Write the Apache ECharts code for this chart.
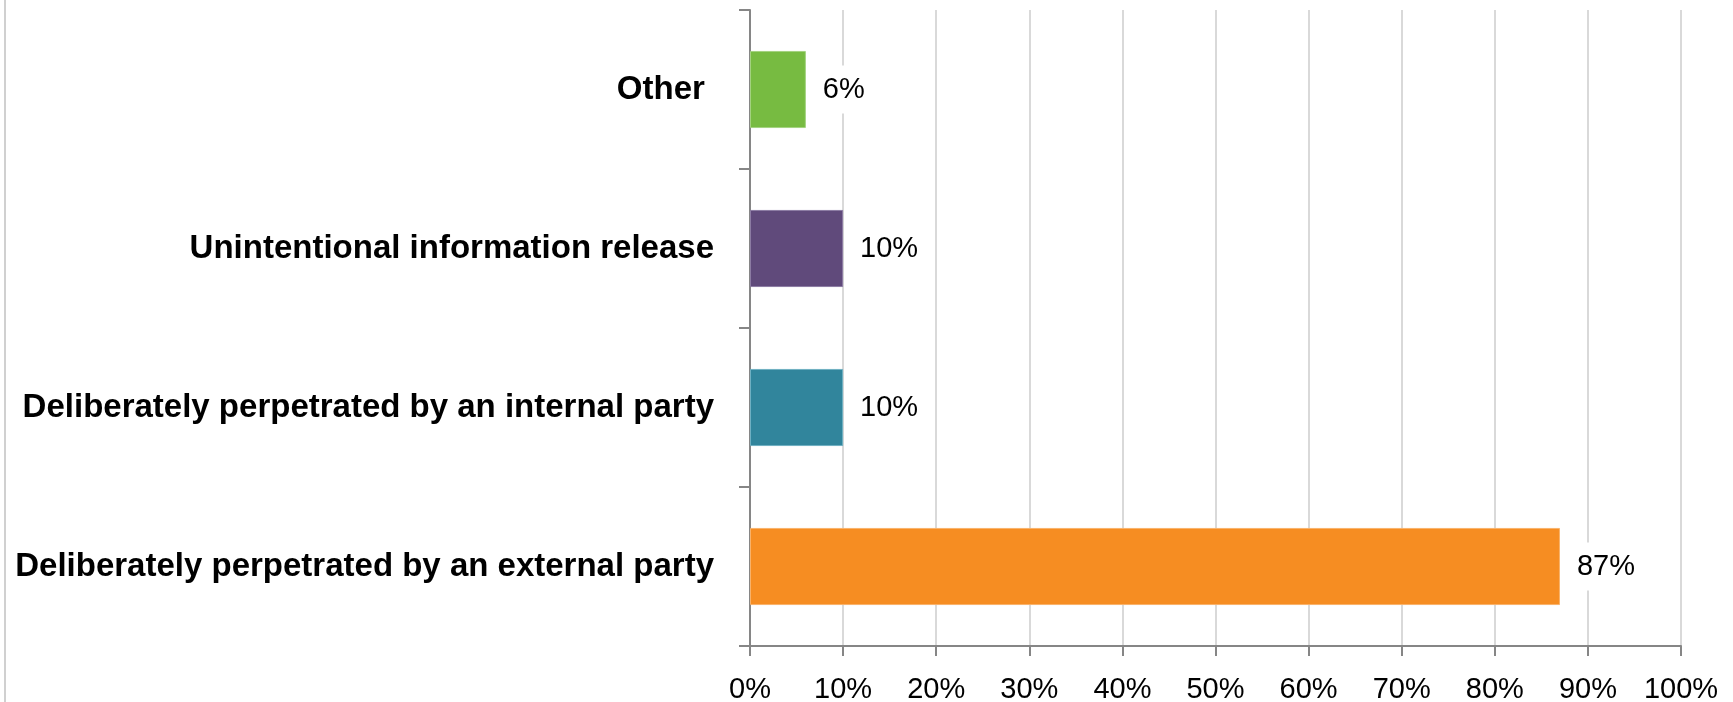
<!DOCTYPE html>
<html>
<head>
<meta charset="utf-8">
<script src="https://cdn.jsdelivr.net/npm/echarts@6/dist/echarts.min.js"></script>
<style>
  html, body { margin: 0; padding: 0; background: #ffffff; }
  #chart { width: 1733px; height: 702px; }
</style>
</head>
<body>
<div id="chart"></div>
<script>
// Breach causes, listed bottom-to-top as the category axis draws them
const categories = [
  'Deliberately perpetrated by an external party',
  'Deliberately perpetrated by an internal party',
  'Unintentional information release',
  'Other '
];
const shares = [87, 10, 10, 6];
const barColors = ['#F68D22', '#31859C', '#604A7B', '#77BB41'];
const barEdges = ['#F9B26A', '#6FB0C2', '#8C7BA3', '#A3D27F'];
const xTicks = { min: 0, max: 100, step: 10 };

const FONT = "'Liberation Sans Narrow', 'Arial Narrow', 'Liberation Sans', sans-serif";
const AXIS_GREY = '#868686';

const chart = echarts.init(document.getElementById('chart'), null, { renderer: 'canvas' });

chart.setOption({
  backgroundColor: '#ffffff',
  animation: false,
  grid: { left: 750, right: 52, top: 10, bottom: 56, containLabel: false, outerBoundsMode: 'none' },
  xAxis: {
    type: 'value',
    min: xTicks.min,
    max: xTicks.max,
    interval: xTicks.step,
    axisLine: { show: true, lineStyle: { color: AXIS_GREY, width: 2 } },
    axisTick: { show: true, length: 10, lineStyle: { color: AXIS_GREY, width: 2 } },
    splitLine: { show: true, lineStyle: { color: '#D9D9D9', width: 2 } },
    axisLabel: {
      formatter: '{value}%',
      fontFamily: FONT,
      fontSize: 29,
      color: '#000000',
      margin: 29
    }
  },
  yAxis: {
    type: 'category',
    data: categories,
    axisLine: { show: true, lineStyle: { color: AXIS_GREY, width: 2 } },
    axisTick: { show: true, length: 11, lineStyle: { color: AXIS_GREY, width: 2 } },
    splitLine: { show: false },
    axisLabel: {
      fontFamily: FONT,
      fontWeight: 'bold',
      fontSize: 33,
      color: '#000000',
      margin: 36
    }
  },
  graphic: [{
    type: 'line',
    shape: { x1: 5, y1: 0, x2: 5, y2: 702 },
    style: { stroke: '#D0D0D0', lineWidth: 2 },
    silent: true
  }],
  series: [{
    type: 'bar',
    barWidth: '48.5%',
    data: shares.map((v, i) => ({
      value: v,
      itemStyle: { color: barColors[i], borderColor: barEdges[i], borderWidth: 1 }
    })),
    label: {
      show: true,
      position: 'right',
      distance: 9,
      formatter: '{c}%',
      fontFamily: FONT,
      fontSize: 29,
      color: '#000000',
      backgroundColor: '#ffffff',
      padding: [8, 8],
      lineHeight: 32
    }
  }]
});
</script>
</body>
</html>
